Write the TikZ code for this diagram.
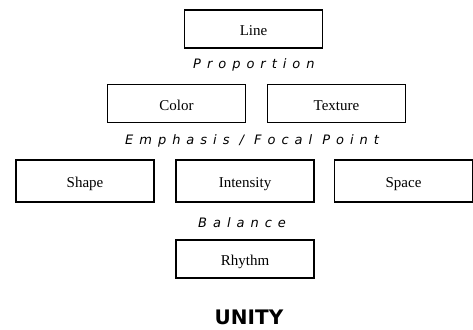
\documentclass[tikz,border=0pt]{standalone}
\usepackage{fontspec}
\setmainfont{Liberation Serif}
\newfontfamily\principlefont{DejaVu Sans}[LetterSpace=46]
\newfontfamily\unityfont{DejaVu Sans}
\begin{document}
\begin{tikzpicture}[x=1pt,y=-1pt,
  element/.style={draw=black,line width=1.3pt,minimum width=138pt,minimum height=38pt,
    inner sep=0pt,text height=13.5pt,text depth=0pt,font=\fontsize{15}{17}\selectfont},
  principle/.style={anchor=base west,inner sep=0pt,
    font=\principlefont\itshape\fontsize{13}{15}\selectfont},
  unity/.style={inner sep=0pt,font=\unityfont\bfseries\fontsize{20}{22}\selectfont}]
\useasboundingbox (0,0) rectangle (473,329);

% elements of design
\node[element] (line)      at (253.5,29)  {Line};
\node[element] (color)     at (176.5,103.5) {Color};
\node[element] (texture)   at (336.5,103.5) {Texture};
\node[element,minimum height=42pt] (shape)     at (85,181)    {Shape};
\node[element,minimum height=42pt] (intensity) at (245,181)   {Intensity};
\node[element,minimum height=42pt] (space)     at (403.5,181) {Space};
\node[element] (rhythm)    at (245,259)   {Rhythm};

% principles of design
\node[principle] (proportion) at (193,68)  {Proportion};
\node[principle] (emphasis)   at (125,144) {Emphasis / Focal Point};
\node[principle] (balance)    at (198,227) {Balance};

\node[unity] (unityword) at (249,317.5) {UNITY};
\end{tikzpicture}
\end{document}
